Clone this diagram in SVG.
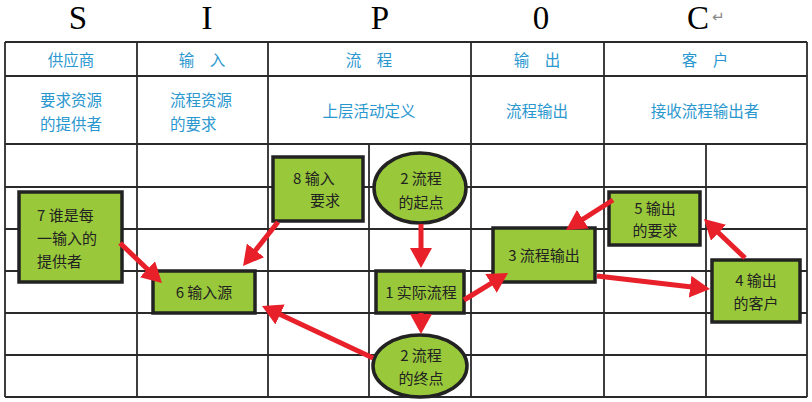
<svg xmlns="http://www.w3.org/2000/svg" width="812" height="402" viewBox="0 0 812 402">
<style>
.title{font-family:"Liberation Serif",serif;font-size:33px;fill:#000;text-anchor:middle}
.hd{font-family:"Noto Sans CJK SC",sans-serif;font-size:15.5px;fill:#2b97cf;text-anchor:middle}
.hl{font-family:"Noto Sans CJK SC",sans-serif;font-size:15.5px;fill:#2b97cf}
.grid line{stroke:#2a2a2a;stroke-width:1.8}
.box{fill:#99c93a;stroke:#222;stroke-width:3.5}
.t{font-family:"Noto Sans CJK SC",sans-serif;font-size:15px;fill:#222}
.c{text-anchor:middle}
.arr{stroke:#e8202a;stroke-width:5;fill:none;marker-end:url(#ah)}
</style>
<defs>
<marker id="ah" markerUnits="userSpaceOnUse" markerWidth="22" markerHeight="22" refX="4" refY="11" orient="auto">
<path d="M0,0 L20,11 L0,22 z" fill="#e8202a"/>
</marker>
</defs>
<rect width="812" height="402" fill="#fff"/>
<g id="titles">
<text class="title" x="78" y="29">S</text>
<text class="title" x="207" y="29">I</text>
<text class="title" x="380" y="29">P</text>
<text class="title" x="541" y="29">0</text>
<text class="title" x="698" y="29">C</text>
<text x="712" y="22" font-family="DejaVu Sans,sans-serif" font-size="15" fill="#888">↵</text>
</g>
<g id="grid" class="grid">
<line x1="5" y1="42" x2="807" y2="42"/>
<line x1="5" y1="76" x2="807" y2="76"/>
<line x1="5" y1="144" x2="807" y2="144"/>
<line x1="5" y1="187" x2="807" y2="187"/>
<line x1="5" y1="229" x2="807" y2="229"/>
<line x1="5" y1="271" x2="807" y2="271"/>
<line x1="5" y1="313" x2="807" y2="313"/>
<line x1="5" y1="355" x2="807" y2="355"/>
<line x1="5" y1="397" x2="807" y2="397"/>
<line x1="5" y1="42" x2="5" y2="397"/>
<line x1="137" y1="42" x2="137" y2="397"/>
<line x1="268" y1="42" x2="268" y2="397"/>
<line x1="369" y1="144" x2="369" y2="397"/>
<line x1="471" y1="42" x2="471" y2="397"/>
<line x1="604" y1="42" x2="604" y2="397"/>
<line x1="706" y1="144" x2="706" y2="397"/>
<line x1="807" y1="42" x2="807" y2="397"/>
</g>
<g id="headers">
<text class="hd" x="71" y="66">供应商</text>
<text class="hd" x="202" y="66">输　入</text>
<text class="hd" x="369" y="66">流　程</text>
<text class="hd" x="537" y="66">输　出</text>
<text class="hd" x="705" y="66">客　户</text>
<text class="hd" x="71" y="106">要求资源</text>
<text class="hd" x="71" y="130">的提供者</text>
<text class="hl" x="170" y="106">流程资源</text>
<text class="hl" x="170" y="130">的要求</text>
<text class="hd" x="369" y="117">上层活动定义</text>
<text class="hd" x="537" y="117">流程输出</text>
<text class="hd" x="705" y="117">接收流程输出者</text>
</g>
<g id="n7">
<rect class="box" x="19" y="192" width="103" height="90"/>
<text class="t" x="37" y="221">7 谁是每</text>
<text class="t" x="37" y="244">一输入的</text>
<text class="t" x="37" y="267">提供者</text>
</g>
<g id="n6">
<rect class="box" x="153" y="271" width="102" height="42"/>
<text class="t c" x="204" y="298">6 输入源</text>
</g>
<g id="n8">
<rect class="box" x="273" y="157" width="90" height="64"/>
<text class="t" x="293" y="184">8 输入</text>
<text class="t" x="310" y="206">要求</text>
</g>
<g id="n2start">
<ellipse cx="420" cy="188" rx="46" ry="35" fill="#99c93a" stroke="#222" stroke-width="3.5"/>
<text class="t c" x="421" y="184">2 流程</text>
<text class="t c" x="421" y="208">的起点</text>
</g>
<g id="n1">
<rect class="box" x="376" y="271" width="88" height="42"/>
<text class="t c" x="421" y="298">1 实际流程</text>
</g>
<g id="n2end">
<ellipse cx="420" cy="366" rx="47" ry="31" fill="#99c93a" stroke="#222" stroke-width="3.5"/>
<text class="t c" x="421" y="361">2 流程</text>
<text class="t c" x="421" y="384">的终点</text>
</g>
<g id="n3">
<rect class="box" x="493" y="228" width="102" height="54"/>
<text class="t c" x="544" y="261">3 流程输出</text>
</g>
<g id="n5">
<rect class="box" x="609" y="192" width="91" height="53"/>
<text class="t c" x="655" y="214">5 输出</text>
<text class="t c" x="655" y="236">的要求</text>
</g>
<g id="n4">
<rect class="box" x="712" y="260" width="88" height="62"/>
<text class="t c" x="756" y="286">4 输出</text>
<text class="t c" x="756" y="309">的客户</text>
</g>
<g id="connectors">
<line class="arr" x1="120" y1="243" x2="150.4" y2="272"/>
<line class="arr" x1="278" y1="222" x2="253" y2="253.5"/>
<line class="arr" x1="373" y1="358" x2="276.5" y2="312.8"/>
<line class="arr" x1="421" y1="224" x2="421" y2="252"/>
<line class="arr" x1="421" y1="313" x2="421" y2="318"/>
<line class="arr" x1="464" y1="300" x2="494.4" y2="281.4"/>
<line class="arr" x1="597" y1="276" x2="694.1" y2="287.2"/>
<line class="arr" x1="745" y1="258" x2="715.6" y2="230"/>
<line class="arr" x1="613" y1="200" x2="579.5" y2="221.4"/>
</g>
</svg>
